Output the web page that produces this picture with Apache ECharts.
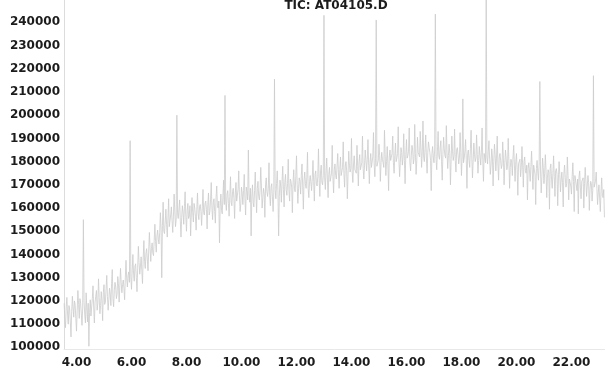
<!DOCTYPE html>
<html>
<head>
<meta charset="utf-8">
<title>TIC: AT04105.D</title>
<script src="https://cdn.jsdelivr.net/npm/echarts@6/dist/echarts.min.js"></script>
<style>
  html, body { margin: 0; padding: 0; background: #ffffff; }
  #chart { width: 605px; height: 373px; }
</style>
</head>
<body>
<div id="chart"></div>
<script>
// Total ion chromatogram, one abundance reading per scan.
const TITLE = 'TIC: AT04105.D';
const SCAN_START = 3.55;   // retention time of the first scan (min)
const SCAN_STEP = 0.025;   // time between scans (min)

const abundance = [
  // 3.550 - 4.525
  119000,112000, 108500,117500, 121500,114000, 110000,118000, 116500,111000,
  104500,115500, 122000,117000, 113000,120000, 118500,112500, 107000,116000,
  124500,118500, 112500,121000, 119000,114500, 109500,117000, 155000,119500,
  114000,110500, 123500,116500, 111000,119000, 100500,115000, 120500,113500,
  // 4.550 - 5.525
  113500,121000, 126500,117000, 110500,119500, 122000,124500, 116000,119000,
  129500,121500, 114500,118000, 124000,120000, 111500,123500, 127000,118500,
  119500,125000, 131000,122000, 116000,120500, 125500,123000, 118000,127500,
  133500,121000, 117500,124500, 128000,126000, 121000,123000, 130500,127500,
  // 5.550 - 6.525
  119500,126500, 134000,128000, 123500,127000, 129000,125500, 120500,130000,
  137500,129500, 126000,131000, 132500,128000, 189000,130500, 125000,133000,
  140000,131500, 128500,135000, 136000,130000, 124000,134500, 143500,136500,
  131500,135000, 139000,133000, 127500,138500, 146000,137000, 134000,140500,
  // 6.550 - 7.525
  142500,138000, 133000,141500, 149500,143000, 137000,142500, 145000,140500,
  139500,146000, 153000,145500, 141000,148000, 150500,146500, 144500,149500,
  158000,151000, 130000,152500, 162500,150000, 149000,154000, 159500,153000,
  147500,155500, 164000,152000, 151500,157000, 160500,154500, 149500,156500,
  // 7.550 - 8.525
  166000,158500, 152000,155000, 200000,157500, 155500,159500, 163500,154500,
  147500,156000, 161000,158000, 153000,160500, 167000,156500, 150000,159000,
  162000,155500, 156500,161000, 148000,157000, 164500,158000, 154000,162000,
  160000,156500, 150500,159500, 166500,157500, 155000,160500, 161500,158500,
  // 8.550 - 9.525
  152500,160500, 168000,158000, 157000,162000, 163000,159500, 151000,161500,
  166500,157000, 158500,163500, 171000,160000, 155000,162500, 164000,158500,
  153500,164500, 169500,161000, 160000,163000, 145000,160500, 166000,159000,
  157500,165500, 172000,161500, 208500,163000, 159000,166000, 167500,162000,
  // 9.550 - 10.525
  156500,165000, 173500,162500, 161000,167000, 168500,164000, 155500,166500,
  171000,163000, 163000,168000, 176000,165500, 158500,162000, 169000,166500,
  161500,167500, 174500,164000, 157000,169000, 167000,163500, 185000,166000,
  162500,168500, 148000,165000, 170000,162500, 160500,167500, 175500,166000,
  // 10.550 - 11.525
  158000,168500, 171500,165000, 163500,167500, 177500,169500, 160000,164500,
  168500,166000, 156000,170000, 173000,167000, 165000,168500, 179500,165500,
  161000,169000, 170500,171000, 158500,166500, 215500,168000, 164000,170500,
  176000,167500, 148000,165000, 172000,169500, 162500,171500, 178000,168000,
  // 11.550 - 12.525
  160500,171000, 174500,168000, 165500,170500, 181000,167500, 163000,172500,
  171500,169000, 158000,171000, 176500,168500, 167000,173500, 182500,170000,
  162000,168500, 173000,171500, 166000,174000, 179000,169500, 159500,172000,
  175500,170500, 168500,173000, 184000,168500, 164500,171500, 174000,174500,
  // 12.550 - 13.525
  167500,173000, 180500,171500, 163000,174500, 176000,170500, 169500,173500,
  185500,172000, 165000,175500, 178500,171000, 170000,174000, 243000,173000,
  168000,176000, 181500,172500, 164500,174500, 177500,171500, 171000,175000,
  187000,173500, 166500,176500, 179000,174000, 172500,172500, 183500,175500,
  // 13.550 - 14.525
  168500,176500, 182000,174000, 174000,177500, 188500,175000, 169000,178000,
  180000,176000, 164000,174500, 184500,178500, 175500,177000, 190000,175500,
  171000,179000, 182500,176500, 176500,175000, 187000,178000, 169500,180000,
  183000,176500, 177000,179500, 191000,177000, 172500,178500, 185000,180500,
  // 14.550 - 15.525
  176000,181000, 189500,178500, 170500,180000, 183500,177500, 178000,182000,
  192500,179000, 173500,181500, 241000,178000, 177500,180500, 187500,182500,
  171500,179500, 184000,181000, 179500,177500, 193500,183000, 174000,180000,
  186500,178500, 167500,182000, 185000,180500, 180500,183500, 191000,179500,
  // 15.550 - 16.525
  175000,182500, 188000,180000, 181500,183500, 195000,181000, 173500,179500,
  186000,184000, 178500,182000, 192000,180500, 170500,183000, 189500,181500,
  182500,184500, 194500,179500, 176000,182500, 187000,185000, 179000,181000,
  196000,183500, 174500,180500, 190500,184000, 183500,182000, 193000,185500,
  // 16.550 - 17.525
  177500,184500, 197500,182000, 180000,185500, 191500,181500, 175000,184000,
  188500,186000, 184000,180500, 167500,183500, 186500,182000, 179500,185000,
  243500,181000, 176500,184500, 193000,182500, 181000,186000, 189000,180000,
  172000,183000, 190500,185500, 182500,181500, 195500,184000, 177000,182500,
  // 17.550 - 18.525
  187500,183500, 170000,181000, 191000,184500, 180500,182500, 194000,180500,
  175500,185000, 186000,183000, 179000,181500, 192500,184000, 174000,182000,
  207000,179500, 181500,184500, 189500,181000, 168500,183500, 185000,180500,
  177500,185500, 193500,182500, 173000,180000, 188000,183000, 180000,181500,
  // 18.550 - 19.525
  191500,183000, 175000,180500, 186500,182500, 178500,184000, 194500,181000,
  171500,183500, 184000,179500, 251000,182000, 179000,184500, 189000,181000,
  174500,178500, 185500,182500, 169500,180000, 187500,183000, 176000,181500,
  191000,179000, 172000,182000, 183500,180500, 177000,178500, 188500,181500,
  // 19.550 - 20.525
  170000,179000, 185000,181500, 176500,178000, 190000,180500, 168500,177500,
  181000,179500, 174000,182000, 187000,178500, 171500,180000, 183500,176500,
  165500,179000, 180000,181000, 173500,177500, 186500,178500, 169000,180000,
  182000,176000, 175000,178500, 163500,177000, 179500,175500, 171500,178000,
  // 20.550 - 21.525
  184500,176000, 168000,178500, 178000,174500, 161500,177000, 180500,175500,
  172000,179000, 214500,176000, 166500,173500, 181500,177500, 170500,175000,
  183000,176500, 164500,173000, 176500,175500, 159500,177000, 179000,172500,
  168500,175000, 182500,173500, 165000,176000, 177000,174500, 161000,172500,
  // 21.550 - 22.525
  180000,174500, 167000,172000, 175500,171000, 160500,175000, 178500,173000,
  169000,170500, 182000,174000, 163500,172500, 173000,169500, 166000,173500,
  179500,171500, 158500,174000, 174500,170000, 167500,172500, 157500,173500,
  176000,169000, 164000,171500, 172000,173000, 160000,170500, 177500,172000,
  // 22.550 - 23.200
  165000,169500, 174000,171000, 159000,168000, 171500,170500, 163000,167500,
  217000,169000, 168500,171500, 175500,168500, 161500,166500, 170000,169500,
  158500,167000, 173000,165500, 164500,168000, 156000
];

const timeTicks = [4, 6, 8, 10, 12, 14, 16, 18, 20, 22];
const abundanceTicks = [100000, 110000, 120000, 130000, 140000, 150000, 160000,
  170000, 180000, 190000, 200000, 210000, 220000, 230000, 240000];

const TIME_MIN = 3.545, TIME_MAX = 23.22;
const ABUND_MIN = 99300, ABUND_MAX = 249600;

const points = abundance.map((v, i) => [+(SCAN_START + i * SCAN_STEP).toFixed(3), v]);

const labelFont = {
  fontFamily: '"DejaVu Sans", sans-serif',
  fontWeight: 'bold',
  fontSize: 12,
  color: '#1c1c1c'
};

const chart = echarts.init(document.getElementById('chart'), null, { renderer: 'canvas' });
chart.setOption({
  animation: false,
  backgroundColor: '#ffffff',
  grid: { left: 64, right: 0, top: 0, bottom: 24, containLabel: false },
  graphic: [{
    type: 'text',
    x: 336,
    y: 5.5,
    style: {
      text: TITLE,
      textAlign: 'center',
      textVerticalAlign: 'middle',
      font: 'bold 12px "DejaVu Sans", sans-serif',
      fill: '#1c1c1c'
    }
  }],
  xAxis: {
    type: 'value',
    min: TIME_MIN,
    max: TIME_MAX,
    axisLine: { show: true, lineStyle: { color: '#e8e8e8', width: 1 } },
    axisTick: { show: false },
    splitLine: { show: false },
    axisLabel: Object.assign({
      customValues: timeTicks,
      margin: 8,
      formatter: v => v.toFixed(2)
    }, labelFont)
  },
  yAxis: {
    type: 'value',
    min: ABUND_MIN,
    max: ABUND_MAX,
    axisLine: { show: true, lineStyle: { color: '#dcdcdc', width: 1 } },
    axisTick: { show: false },
    splitLine: { show: false },
    axisLabel: Object.assign({
      customValues: abundanceTicks,
      margin: 4,
      formatter: v => String(v)
    }, labelFont)
  },
  series: [{
    type: 'line',
    data: points,
    showSymbol: false,
    symbol: 'none',
    sampling: null,
    clip: true,
    lineStyle: { color: '#cccccc', width: 0.8 }
  }]
});
</script>
</body>
</html>
